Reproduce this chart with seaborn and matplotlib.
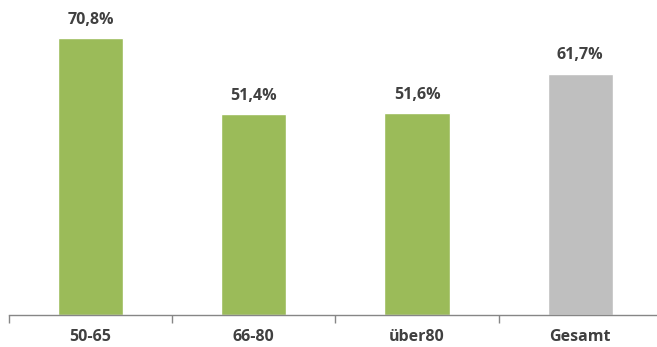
import matplotlib
matplotlib.use("Agg")
import matplotlib.pyplot as plt
import seaborn as sns
import pandas as pd

categories = ["50-65", "66-80", "über80", "Gesamt"]
values = [70.8, 51.4, 51.6, 61.7]
value_labels = ["70,8%", "51,4%", "51,6%", "61,7%"]
colors = ["#9BBB59", "#9BBB59", "#9BBB59", "#BFBFBF"]

sns.set_theme(style="white")
plt.rcParams["font.family"] = ["Open Sans", "DejaVu Sans"]

df = pd.DataFrame({"cat": categories, "val": values})

fig = plt.figure(figsize=(6.57, 3.47), dpi=100)
ax = fig.add_axes([9 / 657, 32 / 347, 1 - 9 / 657, 313 / 347])

sns.barplot(data=df, x="cat", y="val", hue="cat", palette=colors,
            width=0.40, legend=False, ax=ax, saturation=1)

for i, (v, lab) in enumerate(zip(values, value_labels)):
    ax.text(i, v + 2.6, lab, ha="center", va="bottom", fontsize=11.5,
            fontweight="bold", color="#404040")

ax.set_ylim(0, 80)
ax.set_xlim(-0.5, 3.47)
ax.set_yticks([])
ax.set_xlabel("")
ax.set_ylabel("")
for s in ["top", "right", "left"]:
    ax.spines[s].set_visible(False)
ax.spines["bottom"].set_color("#868686")
ax.spines["bottom"].set_linewidth(1.0)

ax.set_xticks(range(len(categories)))
ax.set_xticklabels(categories, fontsize=11.5, fontweight="bold", color="#404040")
ax.tick_params(axis="x", which="major", length=0, pad=10)
ax.set_xticks([-0.5, 0.5, 1.5, 2.5], minor=True)
ax.tick_params(axis="x", which="minor", length=6, width=1.0, color="#868686",
               direction="out", bottom=True)

fig.savefig("out.png", dpi=100)
